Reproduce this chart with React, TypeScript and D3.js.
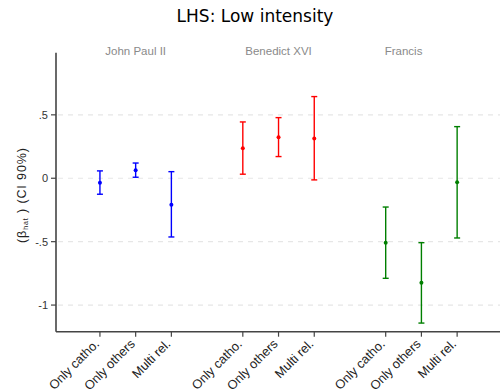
import React from "react";
import * as d3 from "d3";

const categories = ["Only catho.", "Only others", "Multi rel."];
const groups = ["John Paul II", "Benedict XVI", "Francis"];
const groupColors = ["#0000ff", "#ff0000", "#007f00"];
const groupLabelPos = [1, 5, 8.5];
const xPositions = [0, 1, 2, 4, 5, 6, 8, 9, 10];

const estimates = [-0.035, 0.063, -0.208, 0.237, 0.324, 0.313, -0.508, -0.824, -0.032];
const ciLower = [-0.126, 0.008, -0.463, 0.032, 0.171, -0.013, -0.789, -1.142, -0.471];
const ciUpper = [0.058, 0.12, 0.052, 0.444, 0.478, 0.644, -0.227, -0.508, 0.407];

const yTicks = [0.5, 0, -0.5, -1];
const yTickLabels = [".5", "0", "-.5", "-1"];

const W = 500;
const H = 392;

export default function App() {
  const x = d3.scaleLinear().domain([-1.23, 11.2]).range([56, 500]);
  const y = d3.scaleLinear().domain([-1.21, 0.99]).range([331.7, 52.7]);
  const [x0, x1] = x.range();
  const [yb, yt] = y.range();
  const font = "'Liberation Sans', Arial, Helvetica, sans-serif";
  const cap = 3;

  return (
    <svg
      width={W}
      height={H}
      style={{ position: "absolute", left: 0, top: 0, background: "#fff" }}
    >
      <rect x={0} y={0} width={W} height={H} fill="#fff" />
      <text
        x={255}
        y={22}
        textAnchor="middle"
        fontFamily="'DejaVu Sans', sans-serif"
        fontSize={17}
        fill="#000"
      >
        LHS: Low intensity
      </text>

      {/* gridlines */}
      {yTicks.map((t, i) => (
        <line
          key={"g" + i}
          x1={x0 + 2}
          x2={x1}
          y1={y(t)}
          y2={y(t)}
          stroke="#e6e6e6"
          strokeWidth={1.2}
          strokeDasharray="5,5"
        />
      ))}

      {/* group labels */}
      {groups.map((g, i) => (
        <text
          key={"gl" + i}
          x={x(groupLabelPos[i])}
          y={55}
          textAnchor="middle"
          fontFamily={font}
          fontSize={11.5}
          fill="#8a8a8a"
        >
          {g}
        </text>
      ))}

      {/* axes */}
      <line x1={x0} x2={x0} y1={yt} y2={yb} stroke="#444" strokeWidth={1.6} />
      <line x1={x0} x2={x1} y1={yb} y2={yb} stroke="#444" strokeWidth={1.6} />

      {yTicks.map((t, i) => (
        <g key={"yt" + i}>
          <line x1={x0 - 5} x2={x0} y1={y(t)} y2={y(t)} stroke="#444" strokeWidth={1.2} />
          <text
            x={x0 - 8}
            y={y(t)}
            dy="0.35em"
            textAnchor="end"
            fontFamily={font}
            fontSize={11}
            fill="#333"
          >
            {yTickLabels[i]}
          </text>
        </g>
      ))}

      {xPositions.map((p, i) => (
        <g key={"xt" + i}>
          <line x1={x(p)} x2={x(p)} y1={yb} y2={yb + 5} stroke="#444" strokeWidth={1.2} />
          <text
            transform={`translate(${x(p)},${yb + 13}) rotate(-45)`}
            textAnchor="end"
            fontFamily={font}
            fontSize={12.8}
            fill="#222"
          >
            {categories[i % 3]}
          </text>
        </g>
      ))}

      {/* y axis title */}
      <text
        transform={`translate(26,195.5) rotate(-90)`}
        textAnchor="middle"
        fontFamily={font}
        fontSize={12.5}
        fill="#222"
        textLength={95}
        lengthAdjust="spacing"
      >
        (β
        <tspan fontSize={7} dy={2}>
          hat
        </tspan>
        <tspan dy={-2}> ) (CI 90%)</tspan>
      </text>

      {/* error bars */}
      {xPositions.map((p, i) => {
        const c = groupColors[Math.floor(i / 3)];
        const cx = x(p);
        return (
          <g key={"eb" + i}>
            <line x1={cx} x2={cx} y1={y(ciLower[i])} y2={y(ciUpper[i])} stroke={c} strokeWidth={1.4} />
            <line x1={cx - cap} x2={cx + cap} y1={y(ciLower[i])} y2={y(ciLower[i])} stroke={c} strokeWidth={1.4} />
            <line x1={cx - cap} x2={cx + cap} y1={y(ciUpper[i])} y2={y(ciUpper[i])} stroke={c} strokeWidth={1.4} />
            <circle cx={cx} cy={y(estimates[i])} r={2} fill={c} />
          </g>
        );
      })}
    </svg>
  );
}
